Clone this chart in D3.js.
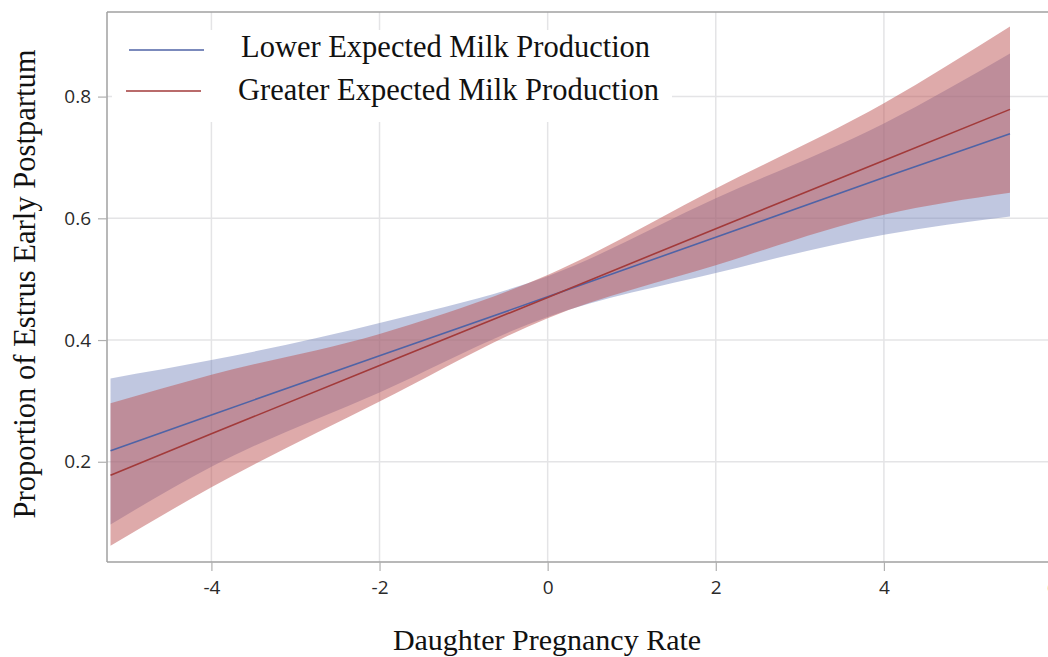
<!DOCTYPE html>
<html>
<head>
<meta charset="utf-8">
<script src="https://cdn.jsdelivr.net/npm/d3@7"></script>
<style>
  html, body { margin: 0; padding: 0; background: #fff; }
  svg { display: block; }
</style>
</head>
<body>
<svg id="chart" width="1048" height="657"></svg>
<script>
// ---- Data ----
const dprX = [-5.2, -4, -2, 0, 2, 4, 5.5];

const lowerFit   = [0.218, 0.277, 0.374, 0.471, 0.569, 0.667, 0.739];
const lowerLCL   = [0.097, 0.192, 0.314, 0.438, 0.510, 0.573, 0.603];
const lowerUCL   = [0.337, 0.367, 0.428, 0.505, 0.633, 0.756, 0.871];

const greaterFit = [0.178, 0.246, 0.358, 0.470, 0.583, 0.695, 0.779];
const greaterLCL = [0.062, 0.158, 0.299, 0.436, 0.523, 0.606, 0.642];
const greaterUCL = [0.296, 0.343, 0.410, 0.507, 0.649, 0.789, 0.915];

const xTicks = [-4, -2, 0, 2, 4, 6];
const yTicks = [0.2, 0.4, 0.6, 0.8];
const seriesNames = ["Lower Expected Milk Production", "Greater Expected Milk Production"];
const xTitle = "Daughter Pregnancy Rate";
const yTitle = "Proportion of Estrus Early Postpartum";

// ---- Layout ----
const svg = d3.select("#chart");
const pLeft = 107, pTop = 12, pBottom = 562, pRight = 1068;

const x = d3.scaleLinear().domain([-5.242, 6.19]).range([pLeft, pRight]);
const y = d3.scaleLinear().domain([0.0353, 0.939]).range([pBottom, pTop]);

svg.append("rect").attr("width", 1048).attr("height", 657).attr("fill", "#fff");

// gridlines
const grid = svg.append("g");
grid.selectAll("line.vx").data(xTicks).join("line")
  .attr("x1", d => x(d)).attr("x2", d => x(d))
  .attr("y1", pTop).attr("y2", pBottom)
  .attr("stroke", "#e4e4e6").attr("stroke-width", 1.5);
grid.selectAll("line.hy").data(yTicks).join("line")
  .attr("x1", pLeft).attr("x2", pRight)
  .attr("y1", d => y(d)).attr("y2", d => y(d))
  .attr("stroke", "#e4e4e6").attr("stroke-width", 1.5);

// build row data
const lowerRows = dprX.map((v, i) => ({x: v, fit: lowerFit[i], lo: lowerLCL[i], hi: lowerUCL[i]}));
const greaterRows = dprX.map((v, i) => ({x: v, fit: greaterFit[i], lo: greaterLCL[i], hi: greaterUCL[i]}));

const area = d3.area()
  .x(d => x(d.x)).y0(d => y(d.lo)).y1(d => y(d.hi))
  .curve(d3.curveMonotoneX);
const line = d3.line()
  .x(d => x(d.x)).y(d => y(d.fit));

const blueFill = "rgb(112,128,184)", redFill = "rgb(188,82,82)";
const blueLine = "#4f63a6", redLine = "#a23a3a";

svg.append("path").datum(lowerRows).attr("d", area)
  .attr("fill", blueFill).attr("fill-opacity", 0.44);
svg.append("path").datum(greaterRows).attr("d", area)
  .attr("fill", redFill).attr("fill-opacity", 0.49);
svg.append("path").datum(lowerRows).attr("d", line)
  .attr("fill", "none").attr("stroke", blueLine).attr("stroke-width", 1.6);
svg.append("path").datum(greaterRows).attr("d", line)
  .attr("fill", "none").attr("stroke", redLine).attr("stroke-width", 1.6);

// legend background + entries
svg.append("rect").attr("x", 112).attr("y", 30).attr("width", 560).attr("height", 92)
  .attr("fill", "#fff");
const legend = svg.append("g");
const legColors = [blueLine, redLine];
const legLineY = [50, 91];
const legLineX = [[129, 204], [126, 201]];
const legTextX = [241, 238];
const legTextY = [57, 100];
seriesNames.forEach((name, i) => {
  legend.append("line")
    .attr("x1", legLineX[i][0]).attr("x2", legLineX[i][1])
    .attr("y1", legLineY[i]).attr("y2", legLineY[i])
    .attr("stroke", legColors[i]).attr("stroke-opacity", 0.75).attr("stroke-width", 2.2);
  legend.append("text")
    .attr("x", legTextX[i]).attr("y", legTextY[i])
    .attr("font-family", "'Liberation Serif', 'Times New Roman', serif")
    .attr("font-size", 30.5).attr("fill", "#111")
    .text(name);
});

// frame
svg.append("line").attr("x1", pLeft).attr("x2", pRight).attr("y1", pTop).attr("y2", pTop)
  .attr("stroke", "#a0a0a0").attr("stroke-width", 1.5);

// axes
const fontTick = "'Open Sans', 'DejaVu Sans', sans-serif";
const xAxis = svg.append("g").attr("transform", `translate(0,${pBottom})`)
  .call(d3.axisBottom(x).tickValues(xTicks).tickSize(9).tickPadding(10).tickFormat(d3.format("d")));
const yAxis = svg.append("g").attr("transform", `translate(${pLeft},0)`)
  .call(d3.axisLeft(y).tickValues(yTicks).tickSize(9).tickPadding(7).tickFormat(d3.format(".1f")));
[xAxis, yAxis].forEach(g => {
  g.select(".domain").attr("stroke", "#a0a0a0").attr("stroke-width", 1.5);
  g.selectAll(".tick line").attr("stroke", "#b0b0b0").attr("stroke-width", 1.2);
  g.selectAll(".tick text").attr("font-family", fontTick).attr("font-size", 19).attr("fill", "#2a2a2a");
});
xAxis.select(".domain").attr("d", `M${pLeft},0H${pRight}`);
yAxis.select(".domain").attr("d", `M0,${pTop}V${pBottom}`);
xAxis.selectAll(".tick text").text(d => d < 0 ? "-" + Math.abs(d) : d);

// titles
svg.append("text")
  .attr("x", 547).attr("y", 650)
  .attr("text-anchor", "middle")
  .attr("font-family", "'Liberation Serif', 'Times New Roman', serif")
  .attr("font-size", 30).attr("fill", "#111")
  .text(xTitle);
svg.append("text")
  .attr("transform", "translate(35,284) rotate(-90)")
  .attr("text-anchor", "middle")
  .attr("font-family", "'Liberation Serif', 'Times New Roman', serif")
  .attr("font-size", 30.6).attr("fill", "#111")
  .text(yTitle);
</script>
</body>
</html>
